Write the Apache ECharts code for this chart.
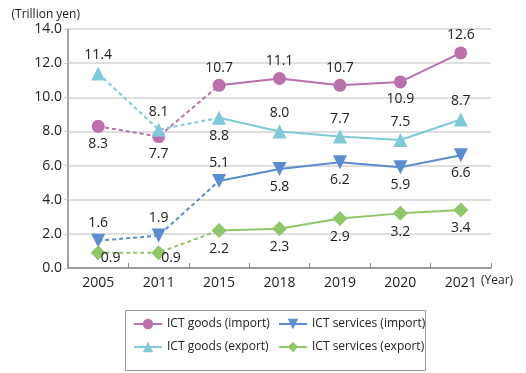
<!DOCTYPE html>
<html><head><meta charset="utf-8">
<script src="https://cdn.jsdelivr.net/npm/echarts@6/dist/echarts.min.js"></script>
<style>html,body{margin:0;padding:0;background:#fff}#c{width:526px;height:373px}</style>
</head><body><div id="c"></div>
<script>
const categories = ['2005','2011','2015','2018','2019','2020','2021'];
const goodsImport = [8.3, 7.7, 10.7, 11.1, 10.7, 10.9, 12.6];
const goodsExport = [11.4, 8.1, 8.8, 8.0, 7.7, 7.5, 8.7];
const servImport = [1.6, 1.9, 5.1, 5.8, 6.2, 5.9, 6.6];
const servExport = [0.9, 0.9, 2.2, 2.3, 2.9, 3.2, 3.4];
const names = ['ICT goods (import)','ICT goods (export)','ICT services (import)','ICT services (export)'];
const yTicks = [0,2,4,6,8,10,12,14];

const gIpos = ['bottom','bottom','top','top','top','bottom','top'];
const gEpos = ['top','top','bottom','top','top','top','top'];
const sIpos = ['top','top','top','bottom','bottom','bottom','bottom'];
const sEpos = ['right','right','bottom','bottom','bottom','bottom','bottom'];

const font = '"Open Sans", "Noto Sans", sans-serif';
const splitIdx = 2;

function makePair(name, data, color, symbol, rot, positions, size) {
  const lbl = (i) => {
    const p = positions[i];
    const o = {show:true, position:p, color:'#222', fontSize:14, fontFamily:font, distance:4,
      formatter: (x)=>Number(x.value).toFixed(1)};
    if (p === 'right') { o.position = [10, 6]; }
    return o;
  };
  const solid = data.map((v,i)=> i < splitIdx ? '-' : {value:v, label:lbl(i)});
  const dashed = data.map((v,i)=> i <= splitIdx ? (i < splitIdx ? {value:v, label:lbl(i)} : {value:v, symbol:'none', label:{show:false}}) : '-');
  const common = {name, type:'line', symbol, symbolSize:size, symbolRotate:rot,
    itemStyle:{color}, z:3};
  return [
    Object.assign({}, common, {data:solid, lineStyle:{color, width:2, type:'solid'}}),
    Object.assign({}, common, {data:dashed, lineStyle:{color, width:2, type:[4,3]}, z:2})
  ];
}

const series = [].concat(
  makePair(names[0], goodsImport, '#bb6fab', 'circle', 0, gIpos, 13),
  makePair(names[1], goodsExport, '#80c9d8', 'triangle', 0, gEpos, 14),
  makePair(names[2], servImport, '#5b8cd0', 'triangle', 180, sIpos, 14),
  makePair(names[3], servExport, '#90c66a', 'diamond', 0, sEpos, 15)
);

const legendCommon = {orient:'vertical', itemWidth:28, itemHeight:13, itemGap:11, padding:0,
  textStyle:{fontSize:12, color:'#222', fontFamily:font}};

const chart = echarts.init(document.getElementById('c'));
chart.setOption({
  animation:false,
  textStyle:{fontFamily:font},
  grid:{left:68, right:35, top:29, bottom:105, containLabel:false},
  xAxis:{type:'category', data:categories, boundaryGap:true,
    axisLine:{lineStyle:{color:'#888', width:1.5}},
    axisTick:{show:true, inside:true, length:5, lineStyle:{color:'#888'}},
    axisLabel:{fontSize:14, color:'#222', margin:8, fontFamily:font}},
  yAxis:{type:'value', min:yTicks[0], max:yTicks[yTicks.length-1], interval:2,
    name:'(Trillion yen)', nameLocation:'end', nameGap:8,
    nameTextStyle:{fontSize:12, color:'#222', align:'right', padding:[0,-12,0,0], fontFamily:font},
    axisLine:{show:true, lineStyle:{color:'#888', width:1.5}},
    axisTick:{show:true, length:4, lineStyle:{color:'#ccc'}},
    splitLine:{lineStyle:{color:'#d4d4d4', width:1.5}},
    axisLabel:{fontSize:14, color:'#222', margin:6, fontFamily:font, formatter:(v)=>v.toFixed(1)}},
  legend:[
    Object.assign({}, legendCommon, {data:[names[0],names[1]], left:133, top:318}),
    Object.assign({}, legendCommon, {data:[names[2],names[3]], left:278, top:318})
  ],
  graphic:[
    {type:'rect', left:123, top:308, shape:{width:300, height:60},
      style:{fill:'none', stroke:'#999', lineWidth:1}, silent:true},
    {type:'text', left:481, top:275, style:{text:'(Year)', fontSize:12, fill:'#222', fontFamily:font}, silent:true}
  ],
  series
});
</script></body></html>
